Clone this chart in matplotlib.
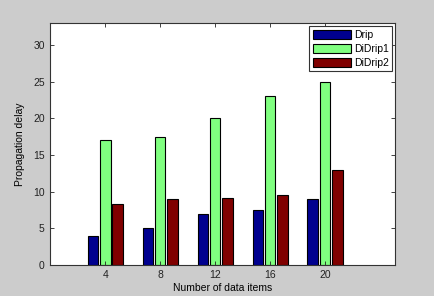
import numpy as np
import matplotlib
matplotlib.use('Agg')
import matplotlib.pyplot as plt

plt.rcParams['font.family'] = ['Liberation Sans', 'DejaVu Sans']

# data
categories = ['4', '8', '12', '16', '20']
drip = [4, 5, 7, 7.5, 9]
didrip1 = [17, 17.5, 20, 23, 25]
didrip2 = [8.3, 9, 9.1, 9.5, 13]
series_names = ['Drip', 'DiDrip1', 'DiDrip2']
series_colors = ['#00008f', '#80ff80', '#800000']

fig = plt.figure(figsize=(4.34, 2.96), dpi=100, facecolor='#cccccc')
ax = fig.add_axes([0.116, 0.105, 0.795, 0.817])

x = np.arange(1, len(categories) + 1)
width = 0.19
offsets = [-0.225, 0.0, 0.225]
for vals, off, name, col in zip([drip, didrip1, didrip2], offsets, series_names, series_colors):
    ax.bar(x + off, vals, width, color=col, edgecolor='black', linewidth=0.8, label=name)

ax.set_xlim(0, 6.28)
ax.set_ylim(0, 33)
ax.set_xticks(x)
ax.set_xticklabels(categories)
ax.set_yticks([0, 5, 10, 15, 20, 25, 30])
ax.tick_params(direction='in', top=True, right=True, labelsize=7.5, length=3,
               width=0.6, colors='#222222', pad=4)
for s in ax.spines.values():
    s.set_linewidth(0.8)
    s.set_color('#333333')

ax.set_xlabel('Number of data items', fontsize=7.5, labelpad=2)
ax.set_ylabel('Propagation delay', fontsize=7.5, labelpad=6)

leg = ax.legend(loc='upper right', fontsize=7.5, fancybox=False, framealpha=1,
                edgecolor='#333333', handlelength=3.6, handleheight=1.0,
                handletextpad=0.3, borderpad=0.35, labelspacing=0.35,
                borderaxespad=0.3)
leg.get_frame().set_linewidth(0.8)

fig.savefig('out.png', dpi=100, facecolor=fig.get_facecolor())
